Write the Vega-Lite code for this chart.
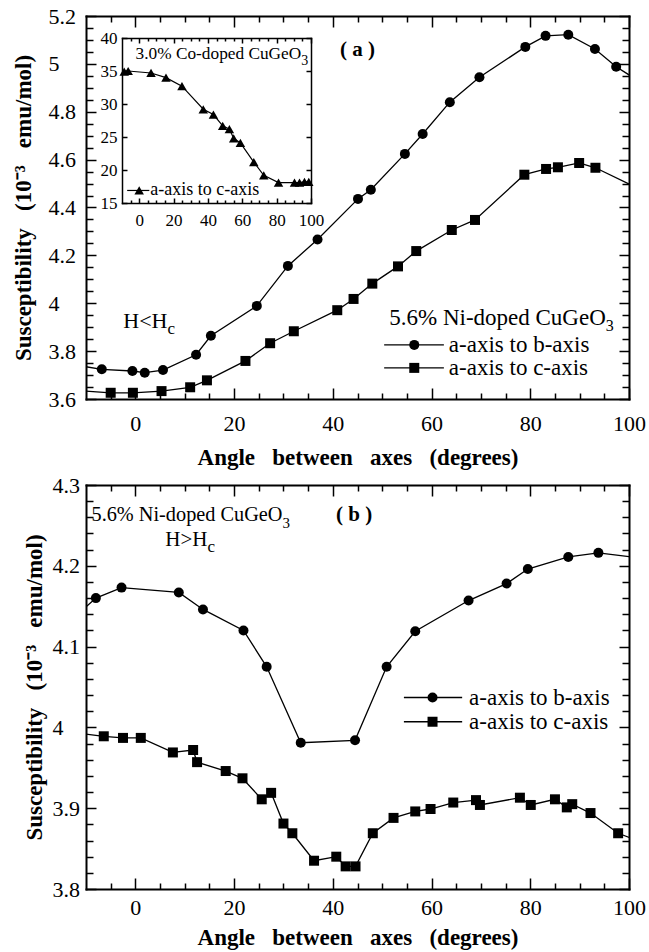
{
  "$schema": "https://vega.github.io/schema/vega-lite/v6.json",
  "background": "white",
  "padding": {"left": 12, "top": 5, "right": 5, "bottom": 5},
  "config": {
    "view": {"stroke": null},
    "font": "Liberation Serif",
    "axis": {"grid": false, "domainColor": "black", "domainWidth": 2, "domainCap": "square", "tickColor": "black", "tickWidth": 1.5, "labelColor": "black", "labelFont": "Liberation Serif", "labelFontSize": 22, "labelOverlap": false, "labelFlush": false, "titleColor": "black", "titleFont": "Liberation Serif", "titleFontSize": 23, "titleFontWeight": "bold"},
    "text": {"font": "Liberation Serif", "color": "black"}
  },
  "datasets": {
    "a": [
      {"angle": -13, "chi": 3.745, "series": "b"},
      {"angle": -6.8, "chi": 3.724, "series": "b"},
      {"angle": -0.6, "chi": 3.717, "series": "b"},
      {"angle": 1.9, "chi": 3.710, "series": "b"},
      {"angle": 5.6, "chi": 3.721, "series": "b"},
      {"angle": 12.3, "chi": 3.785, "series": "b"},
      {"angle": 15.3, "chi": 3.864, "series": "b"},
      {"angle": 24.6, "chi": 3.989, "series": "b"},
      {"angle": 30.9, "chi": 4.156, "series": "b"},
      {"angle": 36.9, "chi": 4.266, "series": "b"},
      {"angle": 45.1, "chi": 4.436, "series": "b"},
      {"angle": 47.7, "chi": 4.474, "series": "b"},
      {"angle": 54.6, "chi": 4.624, "series": "b"},
      {"angle": 58.2, "chi": 4.707, "series": "b"},
      {"angle": 63.7, "chi": 4.840, "series": "b"},
      {"angle": 69.7, "chi": 4.944, "series": "b"},
      {"angle": 79.0, "chi": 5.071, "series": "b"},
      {"angle": 83.1, "chi": 5.117, "series": "b"},
      {"angle": 87.7, "chi": 5.122, "series": "b"},
      {"angle": 93.1, "chi": 5.062, "series": "b"},
      {"angle": 97.4, "chi": 4.988, "series": "b"},
      {"angle": 103, "chi": 4.915, "series": "b"},
      {"angle": -13, "chi": 3.637, "series": "c"},
      {"angle": -5.0, "chi": 3.626, "series": "c"},
      {"angle": -0.5, "chi": 3.626, "series": "c"},
      {"angle": 5.3, "chi": 3.633, "series": "c"},
      {"angle": 11.1, "chi": 3.649, "series": "c"},
      {"angle": 14.5, "chi": 3.678, "series": "c"},
      {"angle": 22.3, "chi": 3.759, "series": "c"},
      {"angle": 27.3, "chi": 3.833, "series": "c"},
      {"angle": 32.1, "chi": 3.883, "series": "c"},
      {"angle": 40.9, "chi": 3.971, "series": "c"},
      {"angle": 44.2, "chi": 4.018, "series": "c"},
      {"angle": 48.0, "chi": 4.082, "series": "c"},
      {"angle": 53.2, "chi": 4.154, "series": "c"},
      {"angle": 56.9, "chi": 4.218, "series": "c"},
      {"angle": 64.1, "chi": 4.306, "series": "c"},
      {"angle": 68.8, "chi": 4.348, "series": "c"},
      {"angle": 78.8, "chi": 4.537, "series": "c"},
      {"angle": 83.2, "chi": 4.561, "series": "c"},
      {"angle": 85.6, "chi": 4.568, "series": "c"},
      {"angle": 89.9, "chi": 4.586, "series": "c"},
      {"angle": 93.2, "chi": 4.566, "series": "c"},
      {"angle": 103, "chi": 4.468, "series": "c"}
    ],
    "b": [
      {"angle": -13, "chi": 4.133, "series": "b"},
      {"angle": -8.0, "chi": 4.160, "series": "b"},
      {"angle": -2.8, "chi": 4.173, "series": "b"},
      {"angle": 8.8, "chi": 4.167, "series": "b"},
      {"angle": 13.7, "chi": 4.146, "series": "b"},
      {"angle": 21.9, "chi": 4.120, "series": "b"},
      {"angle": 26.6, "chi": 4.075, "series": "b"},
      {"angle": 33.5, "chi": 3.981, "series": "b"},
      {"angle": 44.5, "chi": 3.984, "series": "b"},
      {"angle": 50.9, "chi": 4.075, "series": "b"},
      {"angle": 56.7, "chi": 4.119, "series": "b"},
      {"angle": 67.5, "chi": 4.157, "series": "b"},
      {"angle": 75.2, "chi": 4.178, "series": "b"},
      {"angle": 79.5, "chi": 4.196, "series": "b"},
      {"angle": 87.7, "chi": 4.211, "series": "b"},
      {"angle": 93.8, "chi": 4.216, "series": "b"},
      {"angle": 103, "chi": 4.209, "series": "b"},
      {"angle": -13, "chi": 3.994, "series": "c"},
      {"angle": -6.4, "chi": 3.989, "series": "c"},
      {"angle": -2.5, "chi": 3.987, "series": "c"},
      {"angle": 1.1, "chi": 3.987, "series": "c"},
      {"angle": 7.6, "chi": 3.969, "series": "c"},
      {"angle": 11.7, "chi": 3.972, "series": "c"},
      {"angle": 12.5, "chi": 3.957, "series": "c"},
      {"angle": 18.3, "chi": 3.946, "series": "c"},
      {"angle": 21.7, "chi": 3.937, "series": "c"},
      {"angle": 25.6, "chi": 3.911, "series": "c"},
      {"angle": 27.5, "chi": 3.919, "series": "c"},
      {"angle": 30.0, "chi": 3.881, "series": "c"},
      {"angle": 31.8, "chi": 3.869, "series": "c"},
      {"angle": 36.2, "chi": 3.835, "series": "c"},
      {"angle": 40.7, "chi": 3.840, "series": "c"},
      {"angle": 42.6, "chi": 3.828, "series": "c"},
      {"angle": 44.6, "chi": 3.828, "series": "c"},
      {"angle": 48.1, "chi": 3.869, "series": "c"},
      {"angle": 52.3, "chi": 3.888, "series": "c"},
      {"angle": 56.7, "chi": 3.896, "series": "c"},
      {"angle": 59.8, "chi": 3.899, "series": "c"},
      {"angle": 64.4, "chi": 3.907, "series": "c"},
      {"angle": 69.0, "chi": 3.910, "series": "c"},
      {"angle": 69.8, "chi": 3.904, "series": "c"},
      {"angle": 77.9, "chi": 3.913, "series": "c"},
      {"angle": 80.1, "chi": 3.904, "series": "c"},
      {"angle": 85.0, "chi": 3.911, "series": "c"},
      {"angle": 87.4, "chi": 3.901, "series": "c"},
      {"angle": 88.5, "chi": 3.905, "series": "c"},
      {"angle": 92.2, "chi": 3.894, "series": "c"},
      {"angle": 97.8, "chi": 3.869, "series": "c"},
      {"angle": 103, "chi": 3.857, "series": "c"}
    ],
    "inset": [
      {"angle": -8.7, "chi": 34.9},
      {"angle": -6.4, "chi": 35.0},
      {"angle": 6.9, "chi": 34.7},
      {"angle": 15.6, "chi": 34.0},
      {"angle": 24.9, "chi": 32.7},
      {"angle": 37.3, "chi": 29.2},
      {"angle": 43.2, "chi": 28.4},
      {"angle": 48.6, "chi": 26.7},
      {"angle": 52.5, "chi": 26.2},
      {"angle": 55.0, "chi": 24.8},
      {"angle": 58.9, "chi": 24.1},
      {"angle": 66.7, "chi": 21.2},
      {"angle": 72.5, "chi": 19.2},
      {"angle": 81.1, "chi": 18.1},
      {"angle": 90.4, "chi": 18.1},
      {"angle": 93.3, "chi": 18.1},
      {"angle": 96.2, "chi": 18.2},
      {"angle": 98.7, "chi": 18.2}
    ]
  },
  "spacing": 86,
  "bounds": "flush",
  "vconcat": [
    {
      "width": 543,
      "height": 383,
      "layer": [
        {
          "layer": [
            {
              "data": {"name": "a"},
              "mark": {"type": "line", "color": "black", "strokeWidth": 1.3, "clip": true},
              "encoding": {
                "x": {"field": "angle", "type": "quantitative", "scale": {"domain": [-10, 100], "nice": false, "zero": false},
                      "axis": {"orient": "bottom", "values": [0, 20, 40, 60, 80, 100], "tickSize": -11, "labelPadding": 25, "title": "Angle\u2002 between\u2002 axes\u2002 (degrees)", "titlePadding": 12}},
                "y": {"field": "chi", "type": "quantitative", "scale": {"domain": [3.6, 5.2], "nice": false, "zero": false},
                      "axis": {"orient": "left", "values": [3.6, 3.8, 4, 4.2, 4.4, 4.6, 4.8, 5, 5.2], "format": "~g", "tickSize": -10, "labelAlign": "left", "labelPadding": 48, "title": "Susceptibility\u2002 (10\u207b\u00b3\u2002 emu/mol)", "titlePadding": 13}},
                "detail": {"field": "series"}
              }
            },
            {
              "data": {"name": "a"},
              "transform": [{"filter": "datum.angle >= -10 && datum.angle <= 100"}],
              "mark": {"type": "point", "filled": true, "color": "black", "opacity": 1, "size": 100, "clip": true},
              "encoding": {
                "x": {"field": "angle", "type": "quantitative", "scale": {"domain": [-10, 100], "nice": false, "zero": false},
                      "axis": {"orient": "top", "values": [0, 20, 40, 60, 80, 100], "tickSize": -11, "labels": false, "title": null}},
                "y": {"field": "chi", "type": "quantitative", "scale": {"domain": [3.6, 5.2], "nice": false, "zero": false},
                      "axis": {"orient": "right", "values": [3.6, 3.8, 4, 4.2, 4.4, 4.6, 4.8, 5, 5.2], "tickSize": -10, "labels": false, "title": null}},
                "shape": {"field": "series", "type": "nominal", "scale": {"domain": ["b", "c"], "range": ["circle", "square"]}, "legend": null}
              }
            },
            {
              "data": {"name": "a"},
              "mark": {"type": "point", "opacity": 0},
              "encoding": {
                "x": {"field": "angle", "type": "quantitative", "scale": {"domain": [-10, 100], "nice": false, "zero": false},
                      "axis": {"orient": "bottom", "values": [-5, 5, 10, 15, 25, 30, 35, 45, 50, 55, 65, 70, 75, 85, 90, 95], "tickSize": -6, "labels": false, "domain": false, "title": null}},
                "y": {"field": "chi", "type": "quantitative", "scale": {"domain": [3.6, 5.2], "nice": false, "zero": false},
                      "axis": {"orient": "left", "values": [3.65, 3.7, 3.75, 3.85, 3.9, 3.95, 4.05, 4.1, 4.15, 4.25, 4.3, 4.35, 4.45, 4.5, 4.55, 4.65, 4.7, 4.75, 4.85, 4.9, 4.95, 5.05, 5.1, 5.15], "tickSize": -7, "labels": false, "domain": false, "title": null}}
              }
            },
            {
              "data": {"name": "a"},
              "mark": {"type": "point", "opacity": 0},
              "encoding": {
                "x": {"field": "angle", "type": "quantitative", "scale": {"domain": [-10, 100], "nice": false, "zero": false},
                      "axis": {"orient": "top", "values": [-5, 5, 10, 15, 25, 30, 35, 45, 50, 55, 65, 70, 75, 85, 90, 95], "tickSize": -6, "labels": false, "domain": false, "title": null}},
                "y": {"field": "chi", "type": "quantitative", "scale": {"domain": [3.6, 5.2], "nice": false, "zero": false},
                      "axis": {"orient": "right", "values": [3.65, 3.7, 3.75, 3.85, 3.9, 3.95, 4.05, 4.1, 4.15, 4.25, 4.3, 4.35, 4.45, 4.5, 4.55, 4.65, 4.7, 4.75, 4.85, 4.9, 4.95, 5.05, 5.1, 5.15], "tickSize": -7, "labels": false, "domain": false, "title": null}}
              }
            },
            {
              "data": {"values": [{"series": "b", "chi": 3.826}, {"series": "c", "chi": 3.730}]},
              "mark": {"type": "rule", "color": "black", "strokeWidth": 1.3},
              "encoding": {
                "x": {"datum": 50.4, "type": "quantitative", "scale": {"domain": [-10, 100], "nice": false, "zero": false}, "axis": null},
                "x2": {"datum": 62.5},
                "y": {"field": "chi", "type": "quantitative", "scale": {"domain": [3.6, 5.2], "nice": false, "zero": false}, "axis": null}
              }
            },
            {
              "data": {"values": [{"series": "b", "chi": 3.826}, {"series": "c", "chi": 3.730}]},
              "mark": {"type": "point", "filled": true, "color": "black", "opacity": 1, "size": 100},
              "encoding": {
                "x": {"datum": 56.5, "type": "quantitative", "scale": {"domain": [-10, 100], "nice": false, "zero": false}, "axis": null},
                "y": {"field": "chi", "type": "quantitative", "scale": {"domain": [3.6, 5.2], "nice": false, "zero": false}, "axis": null},
                "shape": {"field": "series", "type": "nominal", "scale": {"domain": ["b", "c"], "range": ["circle", "square"]}, "legend": null}
              }
            },
            {
              "data": {"values": [{"label": "a-axis to b-axis", "chi": 3.826}, {"label": "a-axis to c-axis", "chi": 3.730}]},
              "mark": {"type": "text", "align": "left", "baseline": "middle", "fontSize": 23},
              "encoding": {
                "x": {"datum": 63.5, "type": "quantitative", "scale": {"domain": [-10, 100], "nice": false, "zero": false}, "axis": null},
                "y": {"field": "chi", "type": "quantitative", "scale": {"domain": [3.6, 5.2], "nice": false, "zero": false}, "axis": null},
                "text": {"field": "label"}
              }
            },
            {
              "data": {"values": [{"label": "5.6% Ni-doped CuGeO", "angle": 95.3, "chi": 3.938}]},
              "mark": {"type": "text", "align": "right", "baseline": "middle", "fontSize": 23},
              "encoding": {
                "x": {"field": "angle", "type": "quantitative", "scale": {"domain": [-10, 100], "nice": false, "zero": false}, "axis": null},
                "y": {"field": "chi", "type": "quantitative", "scale": {"domain": [3.6, 5.2], "nice": false, "zero": false}, "axis": null},
                "text": {"field": "label"}
              }
            },
            {
              "data": {"values": [{"label": "3", "angle": 95.3, "chi": 3.938}]},
              "mark": {"type": "text", "align": "left", "baseline": "middle", "fontSize": 16, "dy": 8},
              "encoding": {
                "x": {"field": "angle", "type": "quantitative", "scale": {"domain": [-10, 100], "nice": false, "zero": false}, "axis": null},
                "y": {"field": "chi", "type": "quantitative", "scale": {"domain": [3.6, 5.2], "nice": false, "zero": false}, "axis": null},
                "text": {"field": "label"}
              }
            },
            {
              "data": {"values": [{"label": "H<H", "angle": 6.5, "chi": 3.897}]},
              "mark": {"type": "text", "align": "right", "baseline": "alphabetic", "fontSize": 22},
              "encoding": {
                "x": {"field": "angle", "type": "quantitative", "scale": {"domain": [-10, 100], "nice": false, "zero": false}, "axis": null},
                "y": {"field": "chi", "type": "quantitative", "scale": {"domain": [3.6, 5.2], "nice": false, "zero": false}, "axis": null},
                "text": {"field": "label"}
              }
            },
            {
              "data": {"values": [{"label": "c", "angle": 6.5, "chi": 3.897}]},
              "mark": {"type": "text", "align": "left", "baseline": "alphabetic", "fontSize": 17, "dy": 6},
              "encoding": {
                "x": {"field": "angle", "type": "quantitative", "scale": {"domain": [-10, 100], "nice": false, "zero": false}, "axis": null},
                "y": {"field": "chi", "type": "quantitative", "scale": {"domain": [3.6, 5.2], "nice": false, "zero": false}, "axis": null},
                "text": {"field": "label"}
              }
            },
            {
              "data": {"values": [{"label": "( a )", "angle": 45.0, "chi": 5.058}]},
              "mark": {"type": "text", "align": "center", "baseline": "middle", "fontSize": 21, "fontWeight": "bold"},
              "encoding": {
                "x": {"field": "angle", "type": "quantitative", "scale": {"domain": [-10, 100], "nice": false, "zero": false}, "axis": null},
                "y": {"field": "chi", "type": "quantitative", "scale": {"domain": [3.6, 5.2], "nice": false, "zero": false}, "axis": null},
                "text": {"field": "label"}
              }
            }
          ],
          "resolve": {"axis": {"x": "independent", "y": "independent"}}
        },
        {
          "layer": [
            {
              "data": {"name": "inset"},
              "mark": {"type": "line", "color": "black", "strokeWidth": 1.2},
              "encoding": {
                "x": {"field": "angle", "type": "quantitative", "scale": {"domain": [-10, 100], "range": [36, 225], "nice": false, "zero": false},
                      "axis": {"orient": "bottom", "offset": -196, "values": [0, 20, 40, 60, 80, 100], "tickSize": -5, "labelPadding": 14, "labelFontSize": 17, "domainWidth": 1.5, "title": null}},
                "y": {"field": "chi", "type": "quantitative", "scale": {"domain": [15, 40], "range": [187, 22], "nice": false, "zero": false},
                      "axis": {"orient": "left", "offset": -36, "values": [15, 20, 25, 30, 35, 40], "tickSize": -5, "labelPadding": 10, "labelFontSize": 17, "domainWidth": 1.5, "title": null}}
              }
            },
            {
              "data": {"name": "inset"},
              "mark": {"type": "point", "shape": "triangle-up", "filled": true, "color": "black", "opacity": 1, "size": 90},
              "encoding": {
                "x": {"field": "angle", "type": "quantitative", "scale": {"domain": [-10, 100], "range": [36, 225], "nice": false, "zero": false},
                      "axis": {"orient": "top", "offset": -22, "values": [0, 20, 40, 60, 80, 100], "tickSize": -5, "labels": false, "domainWidth": 1.5, "title": null}},
                "y": {"field": "chi", "type": "quantitative", "scale": {"domain": [15, 40], "range": [187, 22], "nice": false, "zero": false},
                      "axis": {"orient": "right", "offset": -318, "values": [15, 20, 25, 30, 35, 40], "tickSize": -5, "labels": false, "domainWidth": 1.5, "title": null}}
              }
            },
            {
              "data": {"name": "inset"},
              "mark": {"type": "point", "opacity": 0},
              "encoding": {
                "x": {"field": "angle", "type": "quantitative", "scale": {"domain": [-10, 100], "range": [36, 225], "nice": false, "zero": false},
                      "axis": {"orient": "bottom", "offset": -196, "values": [-5, 5, 10, 15, 25, 30, 35, 45, 50, 55, 65, 70, 75, 85, 90, 95], "tickSize": -3, "labels": false, "domain": false, "title": null}},
                "y": {"field": "chi", "type": "quantitative", "scale": {"domain": [15, 40], "range": [187, 22], "nice": false, "zero": false}, "axis": null}
              }
            },
            {
              "data": {"name": "inset"},
              "mark": {"type": "point", "opacity": 0},
              "encoding": {
                "x": {"field": "angle", "type": "quantitative", "scale": {"domain": [-10, 100], "range": [36, 225], "nice": false, "zero": false},
                      "axis": {"orient": "top", "offset": -22, "values": [-5, 5, 10, 15, 25, 30, 35, 45, 50, 55, 65, 70, 75, 85, 90, 95], "tickSize": -3, "labels": false, "domain": false, "title": null}},
                "y": {"field": "chi", "type": "quantitative", "scale": {"domain": [15, 40], "range": [187, 22], "nice": false, "zero": false}, "axis": null}
              }
            },
            {
              "data": {"values": [{"label": "3.0% Co-doped CuGeO", "angle": 94.3, "chi": 37.6}]},
              "mark": {"type": "text", "align": "right", "baseline": "middle", "fontSize": 17.3},
              "encoding": {
                "x": {"field": "angle", "type": "quantitative", "scale": {"domain": [-10, 100], "range": [36, 225], "nice": false, "zero": false}, "axis": null},
                "y": {"field": "chi", "type": "quantitative", "scale": {"domain": [15, 40], "range": [187, 22], "nice": false, "zero": false}, "axis": null},
                "text": {"field": "label"}
              }
            },
            {
              "data": {"values": [{"label": "3", "angle": 94.3, "chi": 37.6}]},
              "mark": {"type": "text", "align": "left", "baseline": "middle", "fontSize": 14, "dy": 7},
              "encoding": {
                "x": {"field": "angle", "type": "quantitative", "scale": {"domain": [-10, 100], "range": [36, 225], "nice": false, "zero": false}, "axis": null},
                "y": {"field": "chi", "type": "quantitative", "scale": {"domain": [15, 40], "range": [187, 22], "nice": false, "zero": false}, "axis": null},
                "text": {"field": "label"}
              }
            },
            {
              "data": {"values": [{"chi": 16.9}]},
              "mark": {"type": "rule", "color": "black", "strokeWidth": 1.2},
              "encoding": {
                "x": {"datum": -7.0, "type": "quantitative", "scale": {"domain": [-10, 100], "range": [36, 225], "nice": false, "zero": false}, "axis": null},
                "x2": {"datum": 5.9},
                "y": {"field": "chi", "type": "quantitative", "scale": {"domain": [15, 40], "range": [187, 22], "nice": false, "zero": false}, "axis": null}
              }
            },
            {
              "data": {"values": [{"chi": 16.9}]},
              "mark": {"type": "point", "shape": "triangle-up", "filled": true, "color": "black", "opacity": 1, "size": 90},
              "encoding": {
                "x": {"datum": 0.0, "type": "quantitative", "scale": {"domain": [-10, 100], "range": [36, 225], "nice": false, "zero": false}, "axis": null},
                "y": {"field": "chi", "type": "quantitative", "scale": {"domain": [15, 40], "range": [187, 22], "nice": false, "zero": false}, "axis": null}
              }
            },
            {
              "data": {"values": [{"label": "a-axis to c-axis", "chi": 16.9}]},
              "mark": {"type": "text", "align": "left", "baseline": "middle", "fontSize": 18},
              "encoding": {
                "x": {"datum": 6.4, "type": "quantitative", "scale": {"domain": [-10, 100], "range": [36, 225], "nice": false, "zero": false}, "axis": null},
                "y": {"field": "chi", "type": "quantitative", "scale": {"domain": [15, 40], "range": [187, 22], "nice": false, "zero": false}, "axis": null},
                "text": {"field": "label"}
              }
            }
          ],
          "resolve": {"axis": {"x": "independent", "y": "independent"}}
        }
      ],
      "resolve": {"scale": {"x": "independent", "y": "independent"}, "axis": {"x": "independent", "y": "independent"}}
    },
    {
      "width": 543,
      "height": 404,
      "layer": [
        {
          "data": {"name": "b"},
          "mark": {"type": "line", "color": "black", "strokeWidth": 1.3, "clip": true},
          "encoding": {
            "x": {"field": "angle", "type": "quantitative", "scale": {"domain": [-10, 100], "nice": false, "zero": false},
                  "axis": {"orient": "bottom", "values": [0, 20, 40, 60, 80, 100], "tickSize": -11, "labelPadding": 19, "title": "Angle\u2002 between\u2002 axes\u2002 (degrees)", "titlePadding": 8}},
            "y": {"field": "chi", "type": "quantitative", "scale": {"domain": [3.8, 4.3], "nice": false, "zero": false},
                  "axis": {"orient": "left", "values": [3.8, 3.9, 4, 4.1, 4.2, 4.3], "format": "~g", "tickSize": -10, "labelAlign": "left", "labelPadding": 44, "title": "Susceptibility\u2002 (10\u207b\u00b3\u2002 emu/mol)", "titlePadding": 6}},
            "detail": {"field": "series"}
          }
        },
        {
          "data": {"name": "b"},
          "transform": [{"filter": "datum.angle >= -10 && datum.angle <= 100"}],
          "mark": {"type": "point", "filled": true, "color": "black", "opacity": 1, "size": 100, "clip": true},
          "encoding": {
            "x": {"field": "angle", "type": "quantitative", "scale": {"domain": [-10, 100], "nice": false, "zero": false},
                  "axis": {"orient": "top", "values": [0, 20, 40, 60, 80, 100], "tickSize": -11, "labels": false, "title": null}},
            "y": {"field": "chi", "type": "quantitative", "scale": {"domain": [3.8, 4.3], "nice": false, "zero": false},
                  "axis": {"orient": "right", "values": [3.8, 3.9, 4, 4.1, 4.2, 4.3], "tickSize": -10, "labels": false, "title": null}},
            "shape": {"field": "series", "type": "nominal", "scale": {"domain": ["b", "c"], "range": ["circle", "square"]}, "legend": null}
          }
        },
        {
          "data": {"name": "b"},
          "mark": {"type": "point", "opacity": 0},
          "encoding": {
            "x": {"field": "angle", "type": "quantitative", "scale": {"domain": [-10, 100], "nice": false, "zero": false},
                  "axis": {"orient": "bottom", "values": [-5, 5, 10, 15, 25, 30, 35, 45, 50, 55, 65, 70, 75, 85, 90, 95], "tickSize": -6, "labels": false, "domain": false, "title": null}},
            "y": {"field": "chi", "type": "quantitative", "scale": {"domain": [3.8, 4.3], "nice": false, "zero": false},
                  "axis": {"orient": "left", "values": [3.82, 3.84, 3.86, 3.88, 3.92, 3.94, 3.96, 3.98, 4.02, 4.04, 4.06, 4.08, 4.12, 4.14, 4.16, 4.18, 4.22, 4.24, 4.26, 4.28], "tickSize": -7, "labels": false, "domain": false, "title": null}}
          }
        },
        {
          "data": {"name": "b"},
          "mark": {"type": "point", "opacity": 0},
          "encoding": {
            "x": {"field": "angle", "type": "quantitative", "scale": {"domain": [-10, 100], "nice": false, "zero": false},
                  "axis": {"orient": "top", "values": [-5, 5, 10, 15, 25, 30, 35, 45, 50, 55, 65, 70, 75, 85, 90, 95], "tickSize": -6, "labels": false, "domain": false, "title": null}},
            "y": {"field": "chi", "type": "quantitative", "scale": {"domain": [3.8, 4.3], "nice": false, "zero": false},
                  "axis": {"orient": "right", "values": [3.82, 3.84, 3.86, 3.88, 3.92, 3.94, 3.96, 3.98, 4.02, 4.04, 4.06, 4.08, 4.12, 4.14, 4.16, 4.18, 4.22, 4.24, 4.26, 4.28], "tickSize": -7, "labels": false, "domain": false, "title": null}}
          }
        },
        {
          "data": {"values": [{"series": "b", "chi": 4.037}, {"series": "c", "chi": 4.007}]},
          "mark": {"type": "rule", "color": "black", "strokeWidth": 1.3},
          "encoding": {
            "x": {"datum": 54.4, "type": "quantitative", "scale": {"domain": [-10, 100], "nice": false, "zero": false}, "axis": null},
            "x2": {"datum": 66.2},
            "y": {"field": "chi", "type": "quantitative", "scale": {"domain": [3.8, 4.3], "nice": false, "zero": false}, "axis": null}
          }
        },
        {
          "data": {"values": [{"series": "b", "chi": 4.037}, {"series": "c", "chi": 4.007}]},
          "mark": {"type": "point", "filled": true, "color": "black", "opacity": 1, "size": 100},
          "encoding": {
            "x": {"datum": 60.2, "type": "quantitative", "scale": {"domain": [-10, 100], "nice": false, "zero": false}, "axis": null},
            "y": {"field": "chi", "type": "quantitative", "scale": {"domain": [3.8, 4.3], "nice": false, "zero": false}, "axis": null},
            "shape": {"field": "series", "type": "nominal", "scale": {"domain": ["b", "c"], "range": ["circle", "square"]}, "legend": null}
          }
        },
        {
          "data": {"values": [{"label": "a-axis to b-axis", "chi": 4.037}, {"label": "a-axis to c-axis", "chi": 4.007}]},
          "mark": {"type": "text", "align": "left", "baseline": "middle", "fontSize": 23},
          "encoding": {
            "x": {"datum": 67.6, "type": "quantitative", "scale": {"domain": [-10, 100], "nice": false, "zero": false}, "axis": null},
            "y": {"field": "chi", "type": "quantitative", "scale": {"domain": [3.8, 4.3], "nice": false, "zero": false}, "axis": null},
            "text": {"field": "label"}
          }
        },
        {
          "data": {"values": [{"label": "5.6% Ni-doped CuGeO", "angle": 29.8, "chi": 4.2625}]},
          "mark": {"type": "text", "align": "right", "baseline": "middle", "fontSize": 20.3},
          "encoding": {
            "x": {"field": "angle", "type": "quantitative", "scale": {"domain": [-10, 100], "nice": false, "zero": false}, "axis": null},
            "y": {"field": "chi", "type": "quantitative", "scale": {"domain": [3.8, 4.3], "nice": false, "zero": false}, "axis": null},
            "text": {"field": "label"}
          }
        },
        {
          "data": {"values": [{"label": "3", "angle": 29.8, "chi": 4.2625}]},
          "mark": {"type": "text", "align": "left", "baseline": "middle", "fontSize": 15, "dy": 8},
          "encoding": {
            "x": {"field": "angle", "type": "quantitative", "scale": {"domain": [-10, 100], "nice": false, "zero": false}, "axis": null},
            "y": {"field": "chi", "type": "quantitative", "scale": {"domain": [3.8, 4.3], "nice": false, "zero": false}, "axis": null},
            "text": {"field": "label"}
          }
        },
        {
          "data": {"values": [{"label": "( b )", "angle": 44.3, "chi": 4.2625}]},
          "mark": {"type": "text", "align": "center", "baseline": "middle", "fontSize": 21, "fontWeight": "bold"},
          "encoding": {
            "x": {"field": "angle", "type": "quantitative", "scale": {"domain": [-10, 100], "nice": false, "zero": false}, "axis": null},
            "y": {"field": "chi", "type": "quantitative", "scale": {"domain": [3.8, 4.3], "nice": false, "zero": false}, "axis": null},
            "text": {"field": "label"}
          }
        },
        {
          "data": {"values": [{"label": "H>H", "angle": 14.6, "chi": 4.2245}]},
          "mark": {"type": "text", "align": "right", "baseline": "alphabetic", "fontSize": 21},
          "encoding": {
            "x": {"field": "angle", "type": "quantitative", "scale": {"domain": [-10, 100], "nice": false, "zero": false}, "axis": null},
            "y": {"field": "chi", "type": "quantitative", "scale": {"domain": [3.8, 4.3], "nice": false, "zero": false}, "axis": null},
            "text": {"field": "label"}
          }
        },
        {
          "data": {"values": [{"label": "c", "angle": 14.6, "chi": 4.2245}]},
          "mark": {"type": "text", "align": "left", "baseline": "alphabetic", "fontSize": 17, "dy": 6},
          "encoding": {
            "x": {"field": "angle", "type": "quantitative", "scale": {"domain": [-10, 100], "nice": false, "zero": false}, "axis": null},
            "y": {"field": "chi", "type": "quantitative", "scale": {"domain": [3.8, 4.3], "nice": false, "zero": false}, "axis": null},
            "text": {"field": "label"}
          }
        }
      ],
      "resolve": {"axis": {"x": "independent", "y": "independent"}}
    }
  ]
}
